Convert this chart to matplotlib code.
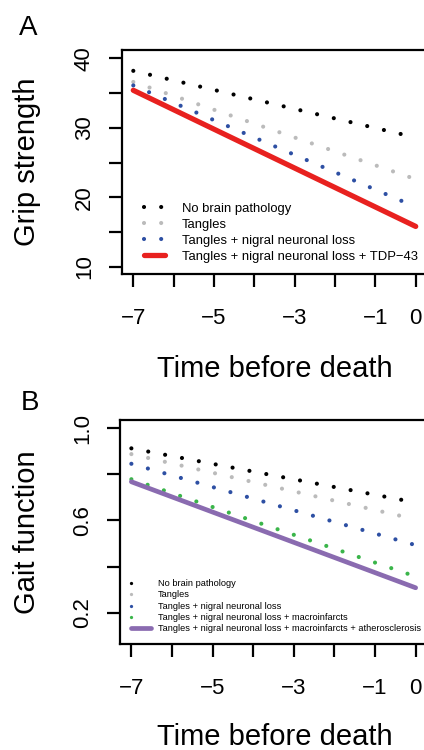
import matplotlib
matplotlib.use('Agg')
import matplotlib.pyplot as plt
from matplotlib.lines import Line2D

plt.rcParams['font.family'] = ['Liberation Sans', 'DejaVu Sans']
plt.rcParams['lines.scale_dashes'] = False

# --- DATA: linear trajectories, values at 7 years before death and at death ---
time = [-7, 0]

grip_labels = ['No brain pathology', 'Tangles', 'Tangles + nigral neuronal loss',
               'Tangles + nigral neuronal loss + TDP\u221243']
grip_start = [38.2, 36.6, 36.1, 35.4]
grip_end = [28.6, 22.6, 18.6, 15.8]
grip_colors = ['black', '#bbbbbb', '#2d4fa3', '#e8211f']

gait_labels = ['No brain pathology', 'Tangles', 'Tangles + nigral neuronal loss',
               'Tangles + nigral neuronal loss + macroinfarcts',
               'Tangles + nigral neuronal loss + macroinfarcts + atherosclerosis']
gait_start = [0.913, 0.888, 0.846, 0.779, 0.768]
gait_end = [0.678, 0.605, 0.493, 0.357, 0.308]
gait_colors = ['black', '#bbbbbb', '#2d4fa3', '#3ab54a', '#8a6bb0']

xticks = list(range(-7, 1))
xticklabels = ['\u22127', '', '\u22125', '', '\u22123', '', '\u22121', '0']

W, H = 424, 750
DOTS = (0, (0.01, 12.35))      # R style lty=3 with thick lines


def px(x0, y0, x1, y1):
    return [x0 / W, 1 - y1 / H, (x1 - x0) / W, (y1 - y0) / H]


def style_axes(ax):
    ax.set_xlim(-7.28, 0.28)
    ax.set_xticks(xticks)
    ax.set_xticklabels(xticklabels)
    for s in ax.spines.values():
        s.set_linewidth(1.6)
    ax.tick_params(direction='out', length=9.5, width=1.6, labelsize=16)
    ax.tick_params(axis='x', pad=15)
    ax.tick_params(axis='y', pad=10)
    for lab in ax.get_yticklabels():
        lab.set_rotation(90)
        lab.set_va('center')


fig = plt.figure(figsize=(W / 100, H / 100), dpi=100)

# --- PANEL A: grip strength ---
axA = fig.add_axes(px(122, 50, 427, 274))
for i in range(4):
    if i < 3:
        axA.plot(time, [grip_start[i], grip_end[i]], color=grip_colors[i],
                 lw=3.0, linestyle=DOTS, dash_capstyle='round', label=grip_labels[i])
    else:
        axA.plot(time, [grip_start[i], grip_end[i]], color=grip_colors[i],
                 lw=3.8, solid_capstyle='round', label=grip_labels[i])
axA.set_ylim(8.95, 41.2)
axA.set_yticks([10, 15, 20, 25, 30, 35, 40])
axA.set_yticklabels(['10', '', '20', '', '30', '', '40'])
style_axes(axA)
axA.legend(loc='lower left', bbox_to_anchor=(0.071, 0.05), frameon=False,
           fontsize=9.4, handlelength=1.6, handletextpad=1.3,
           labelspacing=0.3, borderpad=0, borderaxespad=0)

# --- PANEL B: gait function ---
axB = fig.add_axes(px(120, 420, 427, 644))
for i in range(5):
    if i < 4:
        axB.plot(time, [gait_start[i], gait_end[i]], color=gait_colors[i],
                 lw=3.0, linestyle=DOTS, dash_capstyle='round')
    else:
        axB.plot(time, [gait_start[i], gait_end[i]], color=gait_colors[i],
                 lw=3.4, solid_capstyle='round')
axB.set_ylim(0.064, 1.036)
axB.set_yticks([0.2, 0.4, 0.6, 0.8, 1.0])
axB.set_yticklabels(['0.2', '', '0.6', '', '1.0'])
style_axes(axB)

# legend handles: single dot for dotted series
handlesB = []
for i in range(5):
    if i < 4:
        handlesB.append(Line2D([], [], color=gait_colors[i], lw=2.4,
                               linestyle=(0, (0.01, 40)), dash_capstyle='round'))
    else:
        handlesB.append(Line2D([], [], color=gait_colors[i], lw=3.4,
                               solid_capstyle='round'))
axB.legend(handlesB, gait_labels, loc='lower left', bbox_to_anchor=(0.035, 0.047),
           frameon=False, fontsize=6.7, handlelength=2.2, handletextpad=0.75,
           labelspacing=0.25, borderpad=0, borderaxespad=0)

# --- labels ---
fig.text(27 / W, 1 - 162 / H, 'Grip strength', rotation=90, fontsize=21,
         ha='center', va='center')
fig.text(27 / W, 1 - 532 / H, 'Gait function', rotation=90, fontsize=21,
         ha='center', va='center')
fig.text(274.5 / W, 1 - 377 / H, 'Time before death', fontsize=21,
         ha='center', va='baseline')
fig.text(274.5 / W, 1 - 745 / H, 'Time before death', fontsize=21,
         ha='center', va='baseline')
fig.text(19 / W, 1 - 35 / H, 'A', fontsize=20, ha='left', va='baseline')
fig.text(21 / W, 1 - 410 / H, 'B', fontsize=20, ha='left', va='baseline')

fig.savefig('out.png', dpi=100)
